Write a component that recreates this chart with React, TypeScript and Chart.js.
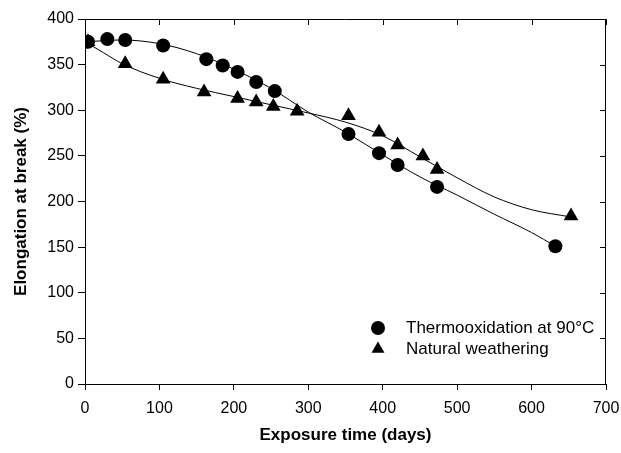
import React, { useEffect, useRef } from 'react';
import { Chart, registerables } from 'chart.js';

Chart.register(...registerables);

// Measured points
const thermoDays = [4, 30, 54, 105, 163, 185, 205, 230, 255, 354, 395, 420, 473, 632];
const thermoElong = [375, 378, 377, 371, 356, 349, 342, 331, 321, 274, 253, 240, 216, 151];
const weatherDays = [4, 54, 105, 160, 205, 230, 253, 285, 354, 395, 420, 454, 473, 653];
const weatherElong = [375, 351, 334, 320, 313, 309, 304, 299, 294, 276, 262, 250, 235, 184];

// Fitted trend curves
const thermoFitDays = [0, 50, 100, 150, 200, 250, 300, 350, 400, 450, 500, 550, 600, 632];
const thermoFitElong = [375, 377, 373, 362, 345, 324, 298, 276, 251, 227, 207, 186, 166, 151];
const weatherFitDays = [0, 25, 50, 100, 150, 200, 250, 300, 350, 400, 450, 500, 550, 600, 653];
const weatherFitElong = [375, 363, 351, 335, 324, 315, 306, 297, 287, 272, 249, 226, 205, 191, 183];

const xTicks = [0, 100, 200, 300, 400, 500, 600, 700];
const yTicks = [0, 50, 100, 150, 200, 250, 300, 350, 400];

const legendLabels = ['Thermooxidation at 90°C', 'Natural weathering'];

const FONT = "'Liberation Sans', Arial, sans-serif";

const toXY = (xs: number[], ys: number[]) => xs.map((x, i) => ({ x, y: ys[i] }));

const framePlugin = {
  id: 'frame',
  afterDraw(chart: any) {
    const { ctx, chartArea } = chart;
    const xs = chart.scales.x;
    const ys = chart.scales.y;
    ctx.save();
    ctx.strokeStyle = '#000';
    ctx.lineWidth = 1;
    ctx.beginPath();
    ctx.moveTo(chartArea.left, chartArea.top + 0.5);
    ctx.lineTo(chartArea.right, chartArea.top + 0.5);
    ctx.moveTo(chartArea.right - 0.5, chartArea.top);
    ctx.lineTo(chartArea.right - 0.5, chartArea.bottom);
    xTicks.forEach((t) => {
      const px = Math.round(xs.getPixelForValue(t)) + 0.5;
      ctx.moveTo(px, chartArea.top);
      ctx.lineTo(px, chartArea.top + 6);
    });
    yTicks.forEach((t) => {
      const py = Math.round(ys.getPixelForValue(t)) + 0.5;
      ctx.moveTo(chartArea.right, py);
      ctx.lineTo(chartArea.right - 6, py);
    });
    ctx.stroke();

    // legend
    const lx = chartArea.left + 293;
    const ly1 = chartArea.top + 309;
    const ly2 = chartArea.top + 330;
    ctx.fillStyle = '#000';
    ctx.beginPath();
    ctx.arc(lx, ly1, 7, 0, Math.PI * 2);
    ctx.fill();
    const r = 7.5;
    ctx.beginPath();
    ctx.moveTo(lx, ly2 - r);
    ctx.lineTo(lx + r * 0.866, ly2 + r / 2);
    ctx.lineTo(lx - r * 0.866, ly2 + r / 2);
    ctx.closePath();
    ctx.fill();
    ctx.font = `17px ${FONT}`;
    ctx.textBaseline = 'middle';
    ctx.textAlign = 'left';
    ctx.fillText(legendLabels[0], lx + 28, ly1);
    ctx.fillText(legendLabels[1], lx + 28, ly2);
    ctx.restore();
  },
};

export default function App() {
  const ref = useRef<HTMLCanvasElement>(null);
  useEffect(() => {
    document.body.style.margin = '0';
    if (!ref.current) return;
    const chart = new Chart(ref.current, {
      type: 'scatter',
      data: {
        datasets: [
          {
            label: legendLabels[0],
            data: toXY(thermoDays, thermoElong),
            pointStyle: 'circle',
            pointRadius: 7,
            pointBackgroundColor: '#000',
            pointBorderWidth: 0,
            order: 0,
          },
          {
            label: legendLabels[1],
            data: toXY(weatherDays, weatherElong),
            pointStyle: 'triangle',
            pointRadius: 8.5,
            pointBackgroundColor: '#000',
            pointBorderWidth: 0,
            order: 0,
          },
          {
            label: 'fit1',
            data: toXY(thermoFitDays, thermoFitElong),
            showLine: true,
            pointRadius: 0,
            borderColor: '#000',
            borderWidth: 1,
            cubicInterpolationMode: 'monotone',
            order: 1,
          },
          {
            label: 'fit2',
            data: toXY(weatherFitDays, weatherFitElong),
            showLine: true,
            pointRadius: 0,
            borderColor: '#000',
            borderWidth: 1,
            cubicInterpolationMode: 'monotone',
            order: 1,
          },
        ],
      },
      options: {
        animation: false,
        responsive: true,
        maintainAspectRatio: false,
        layout: { padding: { top: 19, right: 15, left: 0, bottom: 0 } },
        plugins: { legend: { display: false }, tooltip: { enabled: false } },
        scales: {
          x: {
            type: 'linear',
            min: 0,
            max: 700,
            afterBuildTicks: (s: any) => {
              s.ticks = xTicks.map((v) => ({ value: v }));
            },
            afterFit: (s: any) => {
              s.height = 69;
              s.paddingLeft = 0;
              s.paddingRight = 0;
            },
            ticks: { color: '#000', font: { family: FONT, size: 16 }, padding: 9 },
            grid: { drawOnChartArea: false, tickLength: 6, color: '#000' },
            border: { color: '#000', width: 1 },
            title: {
              display: true,
              text: 'Exposure time (days)',
              color: '#000',
              font: { family: FONT, size: 17, weight: 'bold' },
              padding: { top: 0, bottom: 7 },
            },
          },
          y: {
            type: 'linear',
            min: 0,
            max: 400,
            afterBuildTicks: (s: any) => {
              s.ticks = yTicks.map((v) => ({ value: v }));
            },
            afterFit: (s: any) => {
              s.width = 85;
              s.paddingTop = 0;
              s.paddingBottom = 0;
            },
            ticks: { color: '#000', font: { family: FONT, size: 16 }, padding: 4 },
            grid: { drawOnChartArea: false, tickLength: 7, color: '#000' },
            border: { color: '#000', width: 1 },
            title: {
              display: true,
              text: 'Elongation at break (%)',
              color: '#000',
              font: { family: FONT, size: 17, weight: 'bold' },
              padding: { top: 11, bottom: 0 },
            },
          },
        },
      },
      plugins: [framePlugin],
    } as any);
    return () => chart.destroy();
  }, []);
  return (
    <div style={{ width: 621, height: 453, position: 'relative' }}>
      <canvas ref={ref} />
    </div>
  );
}
